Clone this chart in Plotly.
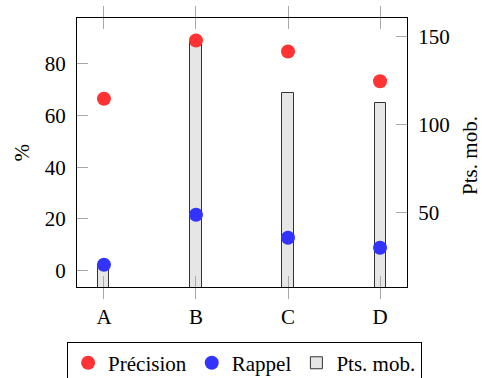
import plotly.graph_objects as go

categories = ["A", "B", "C", "D"]
precision = [66.5, 89.1, 84.8, 73.3]
rappel = [2.2, 21.6, 12.7, 8.8]
pts_mob = [19, 147, 118, 112.5]

FONT = "Liberation Serif"
TICKC = "#a8a8a8"
F = dict(family=FONT, size=21, color="black")

fig = go.Figure()
fig.add_trace(go.Scatter(
    x=list(range(len(categories))), y=precision, name="Précision", mode="markers",
    marker=dict(color="#ff3333", size=14), xaxis="x", yaxis="y2",
))
fig.add_trace(go.Scatter(
    x=list(range(len(categories))), y=rappel, name="Rappel", mode="markers",
    marker=dict(color="#3333ff", size=14), xaxis="x", yaxis="y2",
))
fig.add_trace(go.Bar(
    x=list(range(len(categories))), y=pts_mob, name="Pts. mob.",
    width=0.12, marker=dict(color="#e6e6e6", line=dict(color="#333333", width=1)),
    xaxis="x", yaxis="y",
))
fig.add_trace(go.Scatter(x=[0], y=[50], xaxis="x2", yaxis="y", mode="markers",
                         marker=dict(opacity=0), showlegend=False, hoverinfo="skip"))

fig.update_layout(
    width=482, height=378,
    margin=dict(l=77, r=75, t=18, b=91, autoexpand=False),
    paper_bgcolor="white", plot_bgcolor="white",
    font=F,
    showlegend=True,
    legend=dict(orientation="h", x=-0.03, xanchor="left", y=-0.203, yanchor="top",
                bordercolor="black", borderwidth=1, font=F,
                itemwidth=30, tracegroupgap=0, traceorder="normal"),
    bargap=0,
    xaxis=dict(
        range=[-0.293, 3.293], tickvals=list(range(len(categories))), ticktext=categories,
        ticks="outside", ticklen=11, tickcolor=TICKC, tickwidth=1, mirror="ticks",
        showline=True, linecolor="black", linewidth=1.3, showgrid=False, zeroline=False,
        automargin=False, tickfont=F,
    ),
    xaxis2=dict(
        overlaying="x", matches="x", tickvals=list(range(len(categories))),
        ticks="inside", ticklen=11, tickcolor=TICKC, tickwidth=1, mirror="ticks",
        showticklabels=False, showline=False, showgrid=False, zeroline=False,
        automargin=False,
    ),
    yaxis=dict(
        side="right", range=[7.5, 160.8], tickvals=[50, 100, 150],
        ticks="inside", ticklen=11, tickcolor=TICKC, tickwidth=1,
        showline=True, linecolor="black", linewidth=1.3, showgrid=False, zeroline=False,
        ticklabelstandoff=6, automargin=False, tickfont=F,
    ),
    yaxis2=dict(
        side="left", overlaying="y", range=[-6.4, 97.8], tickvals=[0, 20, 40, 60, 80],
        ticks="inside", ticklen=11, tickcolor=TICKC, tickwidth=1,
        showline=True, linecolor="black", linewidth=1.3, showgrid=False, zeroline=False,
        ticklabelstandoff=6, automargin=False, tickfont=F,
    ),
    annotations=[
        dict(text="%", xref="paper", yref="paper", x=-0.1667, y=0.5, textangle=-90,
             showarrow=False, font=F, xanchor="center", yanchor="middle"),
        dict(text="Pts. mob.", xref="paper", yref="paper", x=1.19, y=0.49, textangle=-90,
             showarrow=False, font=F, xanchor="center", yanchor="middle"),
    ],
)

fig.write_html("out.html", config={"displayModeBar": False},
               post_script="document.body.style.margin='0';")
